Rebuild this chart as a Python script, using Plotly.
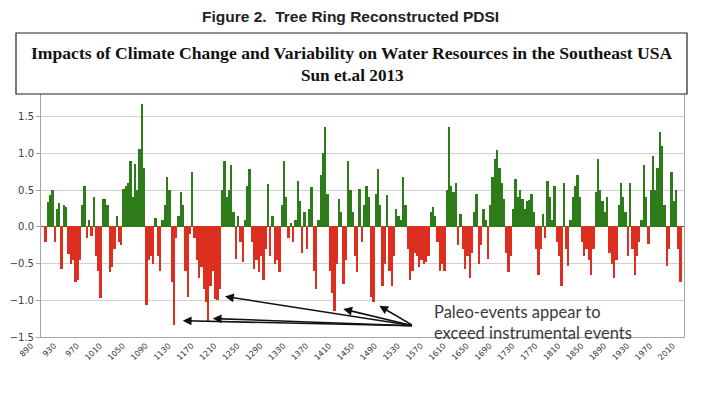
import plotly.graph_objects as go

# ---- data: tree-ring reconstructed PDSI, sampled every 4 years ----
start_year = 898
step_years = 4

pdsi_898_1110 = [
    -0.21, 0.34, 0.43, 0.50, -0.20, 0.25, 0.33, -0.57, 0.30, 0.27,
    -0.37, -0.50, -0.45, -0.75, -0.72, -0.45, 0.30, 0.56, -0.15, 0.10,
    -0.12, 0.40, -0.40, -0.60, -0.97, 0.38, 0.38, 0.30, -0.62, -0.55,
    -0.30, 0.15, -0.20, -0.25, 0.52, 0.55, 0.60, 0.90, 0.40, 0.86,
    0.50, 1.06, 1.68, 0.80, -1.07, -0.45, -0.40, -0.50, 0.12, -0.40,
    -0.60, 0.10, 0.30, 0.68,
]
pdsi_1114_1334 = [
    0.50, -0.75, -1.33, -0.15, 0.15, 0.47, 0.30, -0.60, -0.96, -0.10,
    0.75, -0.15, -0.45, -0.70, -0.55, -0.85, -1.03, -1.30, -0.80, -0.60,
    -0.98, -1.00, -0.85, 0.50, 0.90, 0.40, 0.50, 0.84, 0.20, -0.44,
    0.15, -0.20, -0.48, 0.10, 0.55, 0.79, -0.20, -0.57, -0.45, -0.62,
    -0.40, -0.73, -0.30, 0.59, -0.40, 0.15, -0.50, -0.45, -0.62, 0.30,
    0.90, 0.40, -0.15, 0.05, -0.20, 0.10,
]
pdsi_1338_1558 = [
    0.63, 0.35, -0.35, 0.20, -0.30, 0.25, 0.54, -0.60, -0.85, 0.10,
    0.70, 1.00, 1.36, 0.45, -0.60, -0.90, -1.14, -0.50, 0.38, 0.20,
    -0.78, -0.45, 0.90, 0.50, 0.20, -0.40, -0.62, 0.52, -0.20, 0.30,
    0.56, 0.40, -0.95, -1.03, 0.45, 0.79, 0.30, -0.80, -0.50, 0.43,
    -0.60, -0.80, -0.40, 0.25, 0.15, 0.10, 0.68, 0.30, -0.30, -0.73,
    -0.60, -0.35, -0.40, -0.55, -0.45, -0.50,
]
pdsi_1562_1782 = [
    -0.48, -0.40, 0.20, 0.27, 0.15, -0.20, -0.60, -0.50, -0.60, 0.50,
    1.36, 0.55, 0.48, 0.60, -0.25, 0.18, -0.30, -0.57, -0.40, -0.70,
    -0.35, 0.20, 0.45, -0.50, -0.25, 0.25, 0.10, -0.44, 0.30, 0.68,
    0.93, 1.04, 0.80, 0.60, 0.38, -0.35, -0.62, -0.40, 0.25, 0.65,
    0.40, 0.50, 0.38, 0.25, 0.35, 0.36, 0.45, 0.20, -0.30, -0.66,
    -0.30, 0.18, -0.15, 0.63, 0.40, 0.10,
]
pdsi_1786_2006 = [
    0.55, -0.20, -0.40, -0.80, 0.60, -0.30, -0.53, 0.10, 0.40, 0.56,
    0.70, 0.40, -0.20, -0.40, -0.30, -0.45, -0.66, -0.30, 0.47, 0.93,
    0.50, 0.35, 0.20, 0.40, -0.35, -0.50, -0.69, -0.45, 0.30, 0.60,
    0.40, 0.20, -0.40, 0.60, -0.30, -0.66, -0.40, -0.20, 0.10, 0.84,
    0.40, -0.23, 0.50, 0.97, 0.50, 0.80, 1.29, 1.10, 0.30, -0.53,
    -0.30, 0.75, 0.35, 0.50, -0.30, -0.75,
]

pdsi = pdsi_898_1110 + pdsi_1114_1334 + pdsi_1338_1558 + pdsi_1562_1782 + pdsi_1786_2006
years = [start_year + step_years * i for i in range(len(pdsi))]

x_tick_years = list(range(890, 2011, 40))
y_tick_values = [-1.5, -1.0, -0.5, 0.0, 0.5, 1.0, 1.5]

fig_title = "Figure 2.  Tree Ring Reconstructed PDSI"
box_line1 = "Impacts of Climate Change and Variability on Water Resources in the Southeast USA"
box_line2 = "Sun et.al 2013"
note_text = "Paleo-events appear to<br>exceed instrumental events"

GREEN = "#2e7b1a"
RED = "#dd2f1f"
colors = [GREEN if v >= 0 else RED for v in pdsi]

fig = go.Figure(
    go.Bar(
        x=years, y=pdsi, width=step_years,
        marker=dict(color=colors, line=dict(width=0)),
        hoverinfo="x+y",
    )
)

fig.update_layout(
    width=720, height=393,
    margin=dict(l=41, r=36, t=80, b=56, autoexpand=False),
    paper_bgcolor="white", plot_bgcolor="white",
    showlegend=False,
    bargap=0,
)

fig.update_xaxes(
    range=[890, 2012],
    tickvals=x_tick_years,
    ticktext=[str(v) for v in x_tick_years],
    tickangle=-45,
    tickfont=dict(family="DejaVu Sans", size=8, color="#333333"),
    showline=True, linecolor="#a6a6a6", linewidth=1, mirror=True,
    showgrid=False, zeroline=False, ticks="",
    ticklabelshift=-10,
    automargin=False,
)
fig.update_yaxes(
    range=[-1.5, 2.0],
    tickvals=y_tick_values,
    tickformat=".1f",
    tickfont=dict(family="DejaVu Sans", size=10, color="#404040"),
    showline=True, linecolor="#a6a6a6", linewidth=1, mirror=True,
    showgrid=True, gridcolor="#d0d0d0", gridwidth=1,
    ticks="outside", ticklen=4, tickcolor="#a6a6a6",
    zeroline=True, zerolinecolor=RED, zerolinewidth=1,
    automargin=False,
)

def px_to_paper_x(px):
    return (px - 41) / 643.0

def px_to_paper_y(py):
    return (337 - py) / 257.0

# white framed title box covering the top of the plot
fig.add_shape(
    type="rect", xref="paper", yref="paper", layer="above",
    x0=px_to_paper_x(16), x1=px_to_paper_x(687),
    y0=px_to_paper_y(94), y1=px_to_paper_y(33),
    fillcolor="white", line=dict(color="#222222", width=1.2),
)

annotations = [
    dict(text="<b>" + fig_title + "</b>", xref="paper", yref="paper",
         x=px_to_paper_x(350), y=px_to_paper_y(17), showarrow=False,
         font=dict(family="Liberation Sans", size=15.5, color="#222222"),
         xanchor="center", yanchor="middle"),
    dict(text="<b>" + box_line1 + "</b>", xref="paper", yref="paper",
         x=px_to_paper_x(352), y=px_to_paper_y(53), showarrow=False,
         font=dict(family="Liberation Serif", size=17.6, color="#111111"),
         xanchor="center", yanchor="middle"),
    dict(text="<b>" + box_line2 + "</b>", xref="paper", yref="paper",
         x=px_to_paper_x(352), y=px_to_paper_y(75), showarrow=False,
         font=dict(family="Liberation Serif", size=17.2, color="#111111"),
         xanchor="center", yanchor="middle"),
    dict(text=note_text, xref="paper", yref="paper",
         x=px_to_paper_x(432), y=px_to_paper_y(322), showarrow=False,
         font=dict(family="Lato", size=16.5, color="#3a3a3a"),
         xanchor="left", yanchor="middle", align="left"),
]

# arrows from the note to paleo drought events (tail -> head, data coords)
arrow_tail = (1539.7, -1.347)
arrow_heads = [(1211.0, -0.948), (1189.6, -1.248), (1137.3, -1.279),
               (1417.5, -1.12), (1480.3, -1.075)]
for hx, hy in arrow_heads:
    annotations.append(dict(
        x=hx, y=hy, ax=arrow_tail[0], ay=arrow_tail[1],
        xref="x", yref="y", axref="x", ayref="y",
        text="", showarrow=True, arrowhead=2, arrowsize=1.1,
        arrowwidth=1.6, arrowcolor="#111111",
    ))

fig.update_layout(annotations=annotations)

fig.write_html(
    "out.html",
    config={"displayModeBar": False},
    post_script="document.body.style.margin='0';document.body.style.padding='0';",
)
